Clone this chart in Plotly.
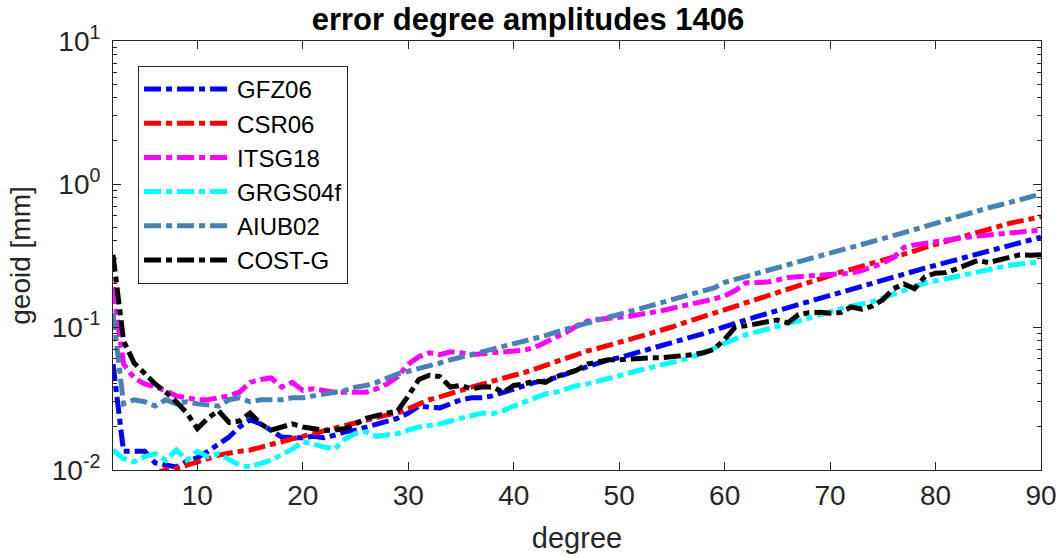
import plotly.graph_objects as go

degrees = list(range(2, 91))

gfz06 = [0.055, 0.0135, 0.0135, 0.0135, 0.0112, 0.0108, 0.0105, 0.0115, 0.0122, 0.0135,
         0.015, 0.017, 0.020, 0.0225, 0.021, 0.019, 0.017, 0.0168, 0.0168, 0.0172,
         0.0168, 0.0175, 0.0185, 0.019, 0.020, 0.021, 0.022, 0.023, 0.025, 0.028,
         0.0275, 0.0272, 0.029, 0.031, 0.032, 0.032, 0.033, 0.035, 0.037, 0.039,
         0.041, 0.042, 0.044, 0.047, 0.050, 0.053, 0.056, 0.059, 0.061, 0.064,
         0.067, 0.070, 0.073, 0.077, 0.081, 0.085, 0.090, 0.095, 0.101, 0.107,
         0.112, 0.118, 0.124, 0.130, 0.137, 0.145, 0.152, 0.160, 0.168, 0.176,
         0.185, 0.194, 0.203, 0.213, 0.223, 0.234, 0.246, 0.258, 0.270, 0.283,
         0.296, 0.310, 0.325, 0.340, 0.356, 0.372, 0.389, 0.406, 0.425]

csr06 = [0.004, 0.005, 0.006, 0.007, 0.0094, 0.0101, 0.0103, 0.0108, 0.0115, 0.012,
         0.0127, 0.0132, 0.0135, 0.0138, 0.0145, 0.0152, 0.016, 0.0165, 0.0172, 0.018,
         0.0185, 0.0195, 0.0205, 0.0215, 0.0225, 0.0235, 0.0243, 0.025, 0.027, 0.029,
         0.031, 0.0325, 0.034, 0.036, 0.038, 0.040, 0.042, 0.044, 0.046, 0.048,
         0.051, 0.054, 0.057, 0.060, 0.064, 0.068, 0.071, 0.074, 0.078, 0.082,
         0.086, 0.090, 0.095, 0.100, 0.106, 0.112, 0.118, 0.125, 0.132, 0.140,
         0.150, 0.158, 0.166, 0.175, 0.185, 0.195, 0.206, 0.218, 0.230, 0.242,
         0.253, 0.265, 0.278, 0.292, 0.306, 0.322, 0.340, 0.360, 0.378, 0.395,
         0.42, 0.44, 0.46, 0.49, 0.51, 0.53, 0.55, 0.57, 0.59]

itsg18 = [0.19, 0.055, 0.044, 0.040, 0.038, 0.036, 0.033, 0.032, 0.031, 0.031,
          0.032, 0.033, 0.035, 0.041, 0.043, 0.044, 0.038, 0.041, 0.036, 0.037,
          0.036, 0.035, 0.035, 0.035, 0.035, 0.037, 0.040, 0.045, 0.055, 0.062,
          0.066, 0.064, 0.067, 0.066, 0.064, 0.065, 0.066, 0.067, 0.068, 0.069,
          0.072, 0.078, 0.084, 0.092, 0.102, 0.110, 0.113, 0.116, 0.117, 0.119,
          0.122, 0.125, 0.130, 0.135, 0.140, 0.145, 0.150, 0.157, 0.165, 0.180,
          0.203, 0.205, 0.206, 0.213, 0.222, 0.225, 0.228, 0.230, 0.232, 0.235,
          0.238, 0.248, 0.262, 0.280, 0.305, 0.360, 0.375, 0.386, 0.395, 0.405,
          0.42, 0.425, 0.432, 0.44, 0.445, 0.452, 0.46, 0.468, 0.477]

grgs04f = [0.0138, 0.0120, 0.0114, 0.0124, 0.0130, 0.0117, 0.0138, 0.0117, 0.0135, 0.0124,
           0.013, 0.0118, 0.0108, 0.0105, 0.0110, 0.0117, 0.0128, 0.014, 0.0158, 0.0150,
           0.0145, 0.0140, 0.0165, 0.0180, 0.0185, 0.0172, 0.0175, 0.018, 0.019, 0.020,
           0.0205, 0.021, 0.022, 0.023, 0.024, 0.025, 0.0248, 0.026, 0.028, 0.030,
           0.032, 0.034, 0.035, 0.037, 0.039, 0.040, 0.042, 0.044, 0.046, 0.048,
           0.050, 0.052, 0.054, 0.057, 0.059, 0.062, 0.066, 0.071, 0.077, 0.083,
           0.088, 0.092, 0.097, 0.101, 0.106, 0.110, 0.116, 0.122, 0.128, 0.134,
           0.140, 0.145, 0.150, 0.160, 0.170, 0.180, 0.192, 0.203, 0.210, 0.218,
           0.224, 0.232, 0.240, 0.250, 0.262, 0.270, 0.276, 0.28, 0.285]

aiub02 = [0.125, 0.029, 0.031, 0.030, 0.028, 0.031, 0.029, 0.030, 0.029, 0.0285,
          0.028, 0.031, 0.032, 0.030, 0.031, 0.031, 0.031, 0.032, 0.032, 0.033,
          0.034, 0.035, 0.036, 0.038, 0.039, 0.041, 0.044, 0.047, 0.049, 0.051,
          0.054, 0.056, 0.059, 0.062, 0.064, 0.067, 0.070, 0.073, 0.076, 0.079,
          0.082, 0.087, 0.092, 0.097, 0.102, 0.107, 0.112, 0.117, 0.122, 0.128,
          0.134, 0.141, 0.148, 0.155, 0.162, 0.170, 0.178, 0.188, 0.205, 0.215,
          0.228, 0.24, 0.25, 0.262, 0.275, 0.288, 0.30, 0.315, 0.33, 0.345,
          0.36, 0.375, 0.395, 0.415, 0.435, 0.455, 0.475, 0.50, 0.53, 0.56,
          0.59, 0.62, 0.65, 0.68, 0.71, 0.74, 0.77, 0.80, 0.85]

costg = [0.32, 0.08, 0.056, 0.047, 0.040, 0.035, 0.030, 0.025, 0.0195, 0.023,
         0.026, 0.0215, 0.022, 0.025, 0.021, 0.019, 0.020, 0.021, 0.020, 0.0195,
         0.019, 0.019, 0.0195, 0.021, 0.023, 0.024, 0.025, 0.026, 0.033, 0.043,
         0.046, 0.045, 0.038, 0.039, 0.037, 0.038, 0.038, 0.035, 0.039, 0.040,
         0.042, 0.041, 0.045, 0.047, 0.050, 0.055, 0.057, 0.059, 0.059, 0.060,
         0.060, 0.061, 0.061, 0.062, 0.062, 0.064, 0.066, 0.070, 0.082, 0.100,
         0.102, 0.105, 0.110, 0.112, 0.107, 0.122, 0.126, 0.127, 0.125, 0.126,
         0.138, 0.133, 0.140, 0.155, 0.185, 0.200, 0.185, 0.225, 0.238, 0.240,
         0.255, 0.27, 0.292, 0.282, 0.295, 0.31, 0.32, 0.318, 0.32]

series_names = ["GFZ06", "CSR06", "ITSG18", "GRGS04f", "AIUB02", "COST-G"]
series_values = [gfz06, csr06, itsg18, grgs04f, aiub02, costg]
series_colors = ["#0000ff", "#ff0000", "#ff00ff", "#00ffff", "#4682b4", "#000000"]

x_ticks = [10, 20, 30, 40, 50, 60, 70, 80, 90]
y_ticks = [0.01, 0.1, 1, 10]
y_tick_labels = ["10<sup>-2</sup>", "10<sup>-1</sup>", "10<sup>0</sup>", "10<sup>1</sup>"]
y_minor = [m * 10.0 ** e for e in (-2, -1, 0) for m in range(2, 10)]

FONT = "Liberation Sans, Arial, sans-serif"
AX = "#262626"

fig = go.Figure()
for name, vals, col in zip(series_names, series_values, series_colors):
    fig.add_trace(go.Scatter(
        x=degrees, y=vals, name=name, mode="lines",
        line=dict(color=col, width=5, dash="17px,5px,6px,5px"),
    ))

fig.update_layout(
    width=1056, height=556,
    margin=dict(l=113, r=15, t=41, b=86),
    paper_bgcolor="white", plot_bgcolor="white",
    font=dict(family=FONT, size=28, color=AX),
    title=dict(text="<b>error degree amplitudes 1406</b>", x=0.5, xref="container",
               xanchor="center", y=0.966, yref="container", yanchor="middle",
               font=dict(family=FONT, size=31, color="#000000")),
    showlegend=True,
    legend=dict(x=0.027, y=0.942, xanchor="left", yanchor="top",
                bgcolor="white", bordercolor=AX, borderwidth=1,
                font=dict(family=FONT, size=24, color="#000000"),
                itemwidth=88, tracegroupgap=0),
)
fig.update_xaxes(
    range=[2, 90], tickvals=x_ticks, ticks="inside", ticklen=8, tickwidth=1,
    tickcolor=AX, showline=True, linecolor=AX, linewidth=1, mirror="ticks",
    showgrid=False, zeroline=False, automargin=False, ticklabeloverflow="allow",
    title=dict(text="degree", font=dict(size=29, color=AX), standoff=18),
    tickfont=dict(size=28, color=AX),
)
fig.update_yaxes(
    type="log", range=[-2, 1], tickvals=y_ticks, ticktext=y_tick_labels,
    ticks="inside", ticklen=8, tickwidth=1, tickcolor=AX,
    showline=True, linecolor=AX, linewidth=1, mirror="ticks",
    showgrid=False, zeroline=False, automargin=False, ticklabelstandoff=6,
    ticklabeloverflow="allow",
    minor=dict(tickmode="array", tickvals=y_minor, ticks="inside", ticklen=4,
               tickcolor=AX, showgrid=False),
    title=dict(text="geoid [mm]", font=dict(size=28, color=AX), standoff=13),
    tickfont=dict(size=28, color=AX),
)

fig.write_html("out.html", config={"displayModeBar": False},
               post_script="document.body.style.margin='0';")
